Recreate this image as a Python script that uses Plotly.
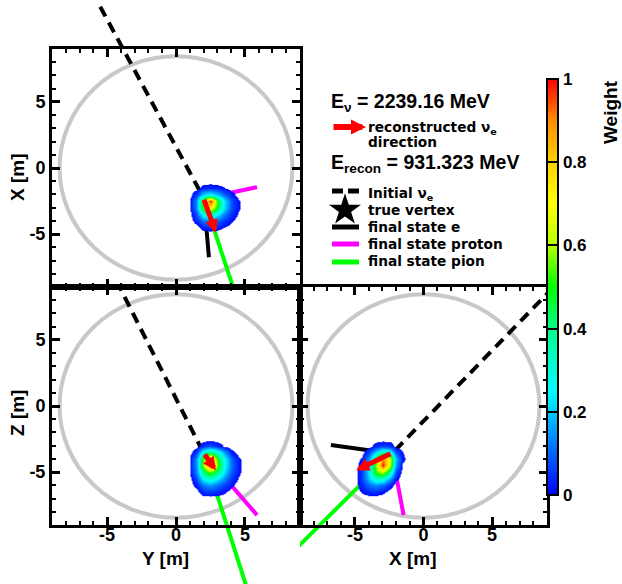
import plotly.graph_objects as go

W, H = 622, 584

# ---------------- data (metres), points given as (X, Y, Z) ----------------
true_vertex = [-2.30, 2.02, -3.60]
nu_start = [12.2, -5.5, 11.9]
electron_end = [-6.75, 2.39, -2.95]
proton_end = [-1.45, 5.88, -8.25]
pion_end = [-14.94, 6.02, -16.6]
reco_vertex = [-2.30, 2.00, -3.56]
reco_dir_end = [-4.90, 2.90, -4.85]
detector_radius = 8.45

E_nu_MeV = "2239.16"
E_recon_MeV = "931.323"

axis_ticks = [-5, 0, 5]
axis_ticktext = ["-5", "0", "5"]
weight_ticks = [0, 0.2, 0.4, 0.6, 0.8, 1]
weight_ticktext = ["0", "0.2", "0.4", "0.6", "0.8", "1"]

# reconstructed-vertex weight maps
# top-left view: horizontal Y, vertical X
tl_Y = [0.5, 1.0, 1.5, 2.0, 2.5, 3.0, 3.5, 4.0, 4.5, 5.0]
tl_X = [-1.0, -1.5, -2.0, -2.5, -3.0, -3.5, -4.0, -4.5, -5.0, -5.5]
tl_w = [
    [0, 0, 0, 0, 0, 0, 0, 0, 0, 0],
    [0, 0, 0, 0.040, 0.047, 0.036, 0.021, 0, 0, 0],
    [0, 0, 0.068, 0.221, 0.267, 0.192, 0.101, 0.042, 0, 0],
    [0, 0.015, 0.145, 0.604, 1.0, 0.496, 0.226, 0.085, 0.027, 0],
    [0, 0.015, 0.137, 0.556, 0.731, 0.459, 0.213, 0.081, 0.026, 0],
    [0, 0, 0.085, 0.292, 0.357, 0.250, 0.128, 0.052, 0.015, 0],
    [0, 0, 0.039, 0.113, 0.134, 0.099, 0.056, 0.025, 0, 0],
    [0, 0, 0, 0.035, 0.040, 0.031, 0.015, 0, 0, 0],
    [0, 0, 0, 0, 0, 0, 0, 0, 0, 0],
    [0, 0, 0, 0, 0, 0, 0, 0, 0, 0],
]
# bottom-left view: horizontal Y, vertical Z
bl_Y = [0.5, 1.0, 1.5, 2.0, 2.5, 3.0, 3.5, 4.0, 4.5, 5.0]
bl_Z = [-2.0, -2.5, -3.0, -3.5, -4.0, -4.5, -5.0, -5.5, -6.0, -6.5, -7.0, -7.5]
bl_w = [
    [0, 0, 0, 0, 0, 0, 0, 0, 0, 0],
    [0, 0, 0, 0, 0, 0, 0, 0, 0, 0],
    [0, 0, 0, 0.060, 0.090, 0.050, 0.012, 0, 0, 0],
    [0, 0, 0.06, 0.30, 0.40, 0.30, 0.15, 0.035, 0, 0],
    [0, 0.018, 0.15, 0.55, 0.92, 0.50, 0.26, 0.10, 0.030, 0],
    [0, 0.018, 0.15, 0.60, 1.0, 0.55, 0.27, 0.11, 0.036, 0],
    [0, 0.016, 0.13, 0.42, 0.55, 0.40, 0.22, 0.09, 0.030, 0],
    [0, 0, 0.075, 0.25, 0.31, 0.23, 0.13, 0.055, 0.015, 0],
    [0, 0, 0.038, 0.12, 0.15, 0.11, 0.065, 0.028, 0, 0],
    [0, 0, 0, 0.049, 0.059, 0.045, 0.025, 0, 0, 0],
    [0, 0, 0, 0, 0, 0, 0, 0, 0, 0],
    [0, 0, 0, 0, 0, 0, 0, 0, 0, 0],
]
# bottom-right view: horizontal X, vertical Z
br_X = [-5.5, -5.0, -4.5, -4.0, -3.5, -3.0, -2.5, -2.0, -1.5, -1.0]
br_Z = [-2.0, -2.5, -3.0, -3.5, -4.0, -4.5, -5.0, -5.5, -6.0, -6.5, -7.0, -7.5]
br_w = [
    [0, 0, 0, 0, 0, 0, 0, 0, 0, 0],
    [0, 0, 0, 0, 0, 0, 0, 0, 0, 0],
    [0, 0, 0, 0, 0.042, 0.070, 0.060, 0, 0, 0],
    [0, 0, 0, 0.067, 0.203, 0.351, 0.299, 0.085, 0.020, 0],
    [0, 0, 0.027, 0.142, 0.454, 0.90, 0.696, 0.182, 0.030, 0],
    [0, 0, 0.042, 0.198, 0.565, 1.0, 0.650, 0.156, 0.012, 0],
    [0, 0, 0.060, 0.229, 0.516, 0.625, 0.372, 0.080, 0, 0],
    [0, 0, 0.061, 0.184, 0.318, 0.299, 0.152, 0.030, 0, 0],
    [0, 0, 0.044, 0.104, 0.140, 0.106, 0.046, 0, 0, 0],
    [0, 0, 0.022, 0.042, 0.045, 0.028, 0, 0, 0, 0],
    [0, 0, 0, 0, 0, 0, 0, 0, 0, 0],
    [0, 0, 0, 0, 0, 0, 0, 0, 0, 0],
]

# ---------------- styling ----------------
weight_cs = [
    [0.0, "rgb(0,0,255)"], [0.1, "rgb(0,100,255)"], [0.25, "rgb(0,255,255)"],
    [0.4, "rgb(0,255,140)"], [0.5, "rgb(0,255,0)"], [0.6, "rgb(180,255,0)"],
    [0.7, "rgb(255,255,0)"], [0.8, "rgb(255,210,0)"], [0.9, "rgb(255,140,0)"],
    [1.0, "rgb(255,0,0)"],
]
blob_cs = [[0.0, "rgba(0,0,255,0)"], [0.019, "rgba(0,0,255,0)"], [0.02, "rgb(0,10,255)"]] + weight_cs[1:]

HELV = "Liberation Sans"
DEJA = "DejaVu Sans"
tickfont = dict(family=HELV, size=18, color="black", weight="bold")

def px(x):
    return x / W

def py(y):
    return 1 - y / H

def lay(ax):
    return ("xaxis" if ax[0] == "x" else "yaxis") + ax[1:]

panels = [
    dict(h=1, v=0, frame=(52, 300, 49, 287), pad=(0, 300, 0, 287),
         pad_ax=("x", "y"), fr_ax=("x4", "y4"), bx=tl_Y, by=tl_X, bz=tl_w,
         xlabels=False, ylabels=True),
    dict(h=1, v=2, frame=(52, 300, 287, 525), pad=(0, 300, 287, 584),
         pad_ax=("x2", "y2"), fr_ax=("x5", "y5"), bx=bl_Y, by=bl_Z, bz=bl_w,
         xlabels=True, ylabels=True),
    dict(h=0, v=2, frame=(300, 547, 287, 525), pad=(300, 622, 287, 584),
         pad_ax=("x3", "y3"), fr_ax=("x6", "y6"), bx=br_X, by=br_Z, bz=br_w,
         xlabels=True, ylabels=False),
]

fig = go.Figure()
layout = dict(width=W, height=H, margin=dict(l=0, r=0, t=0, b=0),
              paper_bgcolor="white", plot_bgcolor="rgba(0,0,0,0)",
              showlegend=False, hovermode=False)
shapes = []
annotations = []

for p in panels:
    L, R, T, B = p["frame"]
    pl, pr, pt, pb = p["pad"]
    sx = 18.0 / (R - L)
    sy = 18.0 / (B - T)
    xa, ya = p["pad_ax"]
    fxa, fya = p["fr_ax"]
    # invisible "pad" axes spanning the drawing pad with the same scale
    layout[lay(xa)] = dict(domain=[pl / W, pr / W], range=[-9 + (pl - L) * sx, -9 + (pr - L) * sx],
                           visible=False, anchor=ya, fixedrange=True)
    layout[lay(ya)] = dict(domain=[1 - pb / H, 1 - pt / H], range=[9 - (pb - T) * sy, 9 - (pt - T) * sy],
                           visible=False, anchor=xa, fixedrange=True)
    common = dict(range=[-9, 9], showline=True, linewidth=3, linecolor="black", mirror="ticks",
                  ticks="inside", ticklen=8, tickwidth=2.5, tickcolor="black",
                  tickmode="array", tickvals=axis_ticks, ticktext=axis_ticktext,
                  minor=dict(ticks="inside", ticklen=4, tickwidth=2, tickcolor="black", dtick=1, tick0=0),
                  showgrid=False, zeroline=False, fixedrange=True, tickfont=tickfont)
    layout[lay(fxa)] = dict(common, domain=[L / W, R / W], anchor=fya, showticklabels=p["xlabels"],
                            ticklabelstandoff=-9)
    layout[lay(fya)] = dict(common, domain=[1 - B / H, 1 - T / H], anchor=fxa, showticklabels=p["ylabels"])

    h, v = p["h"], p["v"]
    # detector outline
    shapes.append(dict(type="circle", xref=xa, yref=ya, layer="below",
                       x0=-detector_radius, x1=detector_radius, y0=-detector_radius, y1=detector_radius,
                       line=dict(color="rgb(200,200,200)", width=4)))
    # tracks
    fig.add_trace(go.Scatter(x=[nu_start[h], true_vertex[h]], y=[nu_start[v], true_vertex[v]],
                             mode="lines", line=dict(color="black", width=4, dash="11px,7px"),
                             xaxis=xa, yaxis=ya))
    for end, col in [(electron_end, "black"), (proton_end, "rgb(255,0,255)"), (pion_end, "rgb(0,255,0)")]:
        fig.add_trace(go.Scatter(x=[true_vertex[h], end[h]], y=[true_vertex[v], end[v]],
                                 mode="lines", line=dict(color=col, width=4), xaxis=xa, yaxis=ya))
    fig.add_trace(go.Scatter(x=[true_vertex[h]], y=[true_vertex[v]], mode="markers",
                             marker=dict(symbol="star", size=12, color="black"), xaxis=xa, yaxis=ya))
    # weight map
    fig.add_trace(go.Heatmap(x=p["bx"], y=p["by"], z=p["bz"], zmin=0, zmax=1, zsmooth="best",
                             colorscale=blob_cs, showscale=False, xaxis=fxa, yaxis=fya, hoverinfo="skip"))
    # reconstructed direction arrow
    annotations.append(dict(x=reco_dir_end[h], y=reco_dir_end[v], xref=fxa, yref=fya,
                            ax=reco_vertex[h], ay=reco_vertex[v], axref=fxa, ayref=fya,
                            text="", showarrow=True, arrowhead=2, arrowwidth=5, arrowsize=0.52,
                            arrowcolor="rgb(255,0,0)"))

# colour bar (carried by an invisible marker trace)
fig.add_trace(go.Scatter(x=[0, 0], y=[0, 0], mode="markers", xaxis="x6", yaxis="y6",
                         marker=dict(color=[0, 1], cmin=0, cmax=1, colorscale=weight_cs, opacity=0,
                                     showscale=True,
                                     colorbar=dict(x=px(547), xanchor="left", xpad=0,
                                                   y=py(79), yanchor="top", ypad=0,
                                                   len=416 / H, lenmode="fraction",
                                                   thickness=11, thicknessmode="pixels",
                                                   outlinewidth=2, outlinecolor="black", borderwidth=0,
                                                   ticks="inside", ticklen=11, tickwidth=2, tickcolor="black",
                                                   tickmode="array", tickvals=weight_ticks,
                                                   ticktext=weight_ticktext,
                                                   tickfont=dict(family=HELV, size=17, color="black",
                                                                 weight="bold")))))

# legend star (legend canvas axes in pixel units)
layout["xaxis7"] = dict(domain=[0, 1], range=[0, W], visible=False, anchor="y7", fixedrange=True)
layout["yaxis7"] = dict(domain=[0, 1], range=[H, 0], visible=False, anchor="x7", fixedrange=True)
fig.add_trace(go.Scatter(x=[345], y=[210], mode="markers", xaxis="x7", yaxis="y7",
                         marker=dict(symbol="star", size=24, color="black")))

# legend line keys
for yk, col, dash in [(191, "black", "11px,5px"), (227, "black", "solid"),
                      (244, "rgb(255,0,255)", "solid"), (262, "rgb(0,255,0)", "solid")]:
    shapes.append(dict(type="line", xref="paper", yref="paper", x0=px(332), x1=px(359),
                       y0=py(yk), y1=py(yk), line=dict(color=col, width=5, dash=dash)))

def txt(s, x, y, font, size, **kw):
    d = dict(text=s, x=px(x), y=py(y), xref="paper", yref="paper", showarrow=False,
             xanchor="left", yanchor="middle",
             font=dict(family=font, size=size, color="black", weight="bold"))
    d.update(kw)
    annotations.append(d)

txt("E<sub>\u03bd</sub> = " + E_nu_MeV + " MeV", 329, 102.5, HELV, 19.5)
txt("reconstructed \u03bd<sub>e</sub>", 366, 128, DEJA, 13.7)
txt("direction", 366, 142, DEJA, 13.7)
txt("E<sub>recon</sub> = " + E_recon_MeV + " MeV", 329, 163.5, HELV, 19.5)
txt("Initial \u03bd<sub>e</sub>", 366, 193.5, DEJA, 13.7)
txt("true vertex", 366, 209.5, DEJA, 13.7)
txt("final state e", 366, 227, DEJA, 13.7)
txt("final state proton", 366, 244, DEJA, 13.7)
txt("final state pion", 366, 261, DEJA, 13.7)

annotations.append(dict(x=px(366), y=py(127), xref="paper", yref="paper", ax=-34, ay=0,
                        text="", showarrow=True, arrowhead=2, arrowwidth=6, arrowsize=0.5,
                        arrowcolor="rgb(255,0,0)"))

# axis titles
txt("X [m]", 17, 177, HELV, 19, xanchor="center", textangle=-90)
txt("Z [m]", 17, 413, HELV, 19, xanchor="center", textangle=-90)
txt("Y [m]", 165, 558, HELV, 19, xanchor="center")
txt("X [m]", 413, 558, HELV, 19, xanchor="center")
txt("Weight", 610, 112, HELV, 19, xanchor="center", textangle=-90)

layout["shapes"] = shapes
layout["annotations"] = annotations
fig.update_layout(**layout)
fig.write_html("out.html")
